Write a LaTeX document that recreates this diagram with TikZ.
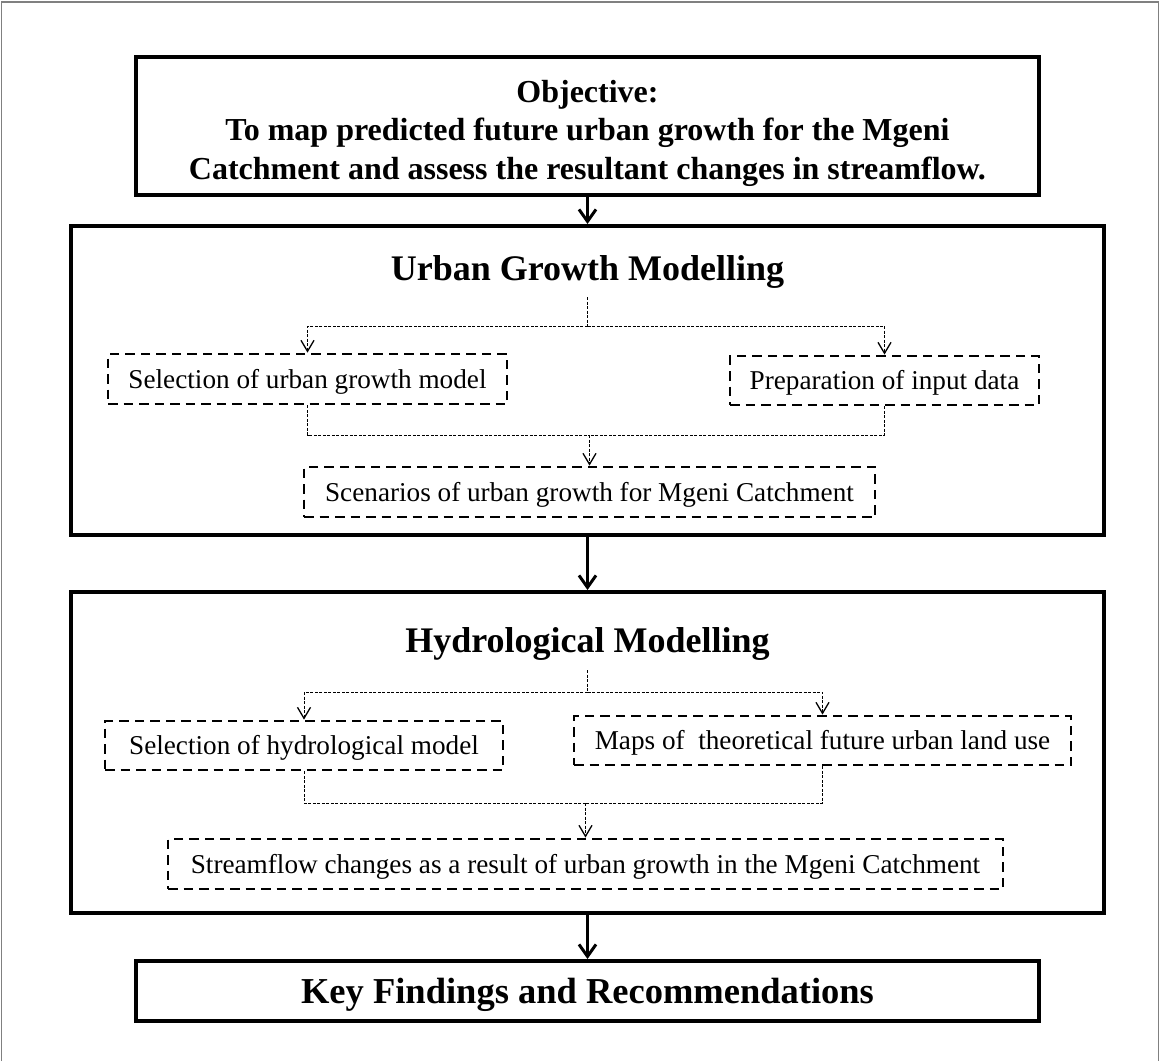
\documentclass[tikz,border=0pt]{standalone}
\usepackage{fontspec}
\setmainfont{Liberation Serif}
\usetikzlibrary{arrows.meta}
\tikzset{
  solidbox/.style={draw, line width=4pt, inner sep=0pt},
  dashbox/.style={draw, line width=2.8pt, dash pattern=on 9.5pt off 6pt, inner sep=0pt,
    font=\fontsize{27.2}{31}\selectfont, text height=18pt, text depth=0pt},
  bigarrow/.style={line width=3pt, -{Straight Barb[length=12pt,width=17pt]}},
  dotline/.style={line width=1pt, dash pattern=on 3pt off 1.5pt},
  dotarrow/.style={dotline, -{Straight Barb[length=11pt,width=13pt,line width=1.3pt]}},
  titletext/.style={font=\bfseries\fontsize{36}{41}\selectfont, anchor=base, inner sep=0pt},
  objtext/.style={font=\bfseries\fontsize{32}{38}\selectfont, anchor=base, inner sep=0pt},
  frameline/.style={draw=black!50, line width=1.2pt}
}
\begin{document}
\begin{tikzpicture}[x=1pt,y=-1pt]
\useasboundingbox (0,0) rectangle (1160,1061);
\draw[frameline] (1.5,1061) -- (1.5,2) -- (1158.5,2) -- (1158.5,1061);

% Objective
\node[solidbox, minimum width=903pt, minimum height=138pt] (obj) at (587.5,126) {};
\node[objtext] (objt1) at (587.5,102) {Objective:};
\node[objtext] (objt2) at (587.5,140) {To map predicted future urban growth for the Mgeni};
\node[objtext] (objt3) at (587.5,179) {Catchment and assess the resultant changes in streamflow.};

% Urban growth modelling
\node[solidbox, minimum width=1033pt, minimum height=309pt] (ubox) at (587.5,380.5) {};
\node[titletext] (utitle) at (587.5,280) {Urban Growth Modelling};
\node[dashbox, minimum width=399pt, minimum height=50pt] (usel) at (307.5,379) {Selection of urban growth model};
\node[dashbox, minimum width=309pt, minimum height=49pt] (uprep) at (884.5,380.5) {Preparation of input data};
\node[dashbox, minimum width=571pt, minimum height=50pt] (uscen) at (589.5,492) {Scenarios of urban growth for Mgeni Catchment};
\coordinate (utop) at (587.5,297);
\coordinate (usplit) at (587.5,326);
\coordinate (ujoin) at (589.5,435);
\draw[dotline] (utop) -- (usplit);
\draw[dotarrow] (usplit) -| (usel.north);
\draw[dotarrow] (usplit) -| (uprep.north);
\draw[dotline] (usel.south) |- (ujoin);
\draw[dotline] (uprep.south) |- (ujoin);
\draw[dotarrow] (ujoin) -- (uscen.north);

% Hydrological modelling
\node[solidbox, minimum width=1033pt, minimum height=321pt] (hbox) at (587.5,752.5) {};
\node[titletext] (htitle) at (587.5,652) {Hydrological Modelling};
\node[dashbox, minimum width=398pt, minimum height=49pt] (hsel) at (304,745.5) {Selection of hydrological model};
\node[dashbox, minimum width=497pt, minimum height=49pt] (hmaps) at (822.5,740.5) {Maps of\ \ theoretical future urban land use};
\node[dashbox, minimum width=835pt, minimum height=50pt] (hstream) at (585.5,864) {Streamflow changes as a result of urban growth in the Mgeni Catchment};
\coordinate (htop) at (587.5,670);
\coordinate (hsplit) at (587.5,692);
\coordinate (hjoin) at (585.5,803);
\draw[dotline] (htop) -- (hsplit);
\draw[dotarrow] (hsplit) -| (hsel.north);
\draw[dotarrow] (hsplit) -| (hmaps.north);
\draw[dotline] (hsel.south) |- (hjoin);
\draw[dotline] (hmaps.south) |- (hjoin);
\draw[dotarrow] (hjoin) -- (hstream.north);

% Key findings
\node[solidbox, minimum width=903pt, minimum height=60pt, font=\bfseries\fontsize{36.5}{41}\selectfont, text height=24pt, text depth=0pt] (key) at (587.5,991) {Key Findings and Recommendations};

% Main flow
\draw[bigarrow] (obj.south) -- (ubox.north);
\draw[bigarrow] (ubox.south) -- (hbox.north);
\draw[bigarrow] (hbox.south) -- (key.north);
\end{tikzpicture}
\end{document}
